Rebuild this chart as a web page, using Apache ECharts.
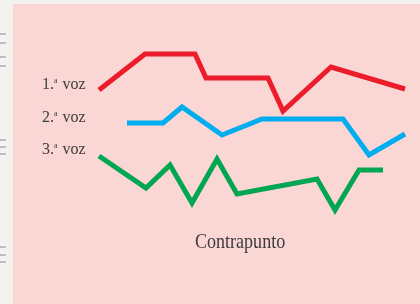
<!DOCTYPE html>
<html lang="es">
<head>
<meta charset="utf-8">
<script src="https://cdn.jsdelivr.net/npm/echarts@6/dist/echarts.min.js"></script>
<style>
  html, body { margin: 0; padding: 0; background: #f4f2ef; }
  #main { width: 420px; height: 304px; }
</style>
</head>
<body>
<div id="main"></div>
<script>
// voces del contrapunto: [tiempo, altura]
var voz1 = [[86, 214], [132, 250], [182, 250], [193, 226], [255, 226], [270, 193], [318, 237], [392, 215]];
var voz2 = [[114, 181], [150, 181], [169, 197], [209, 169], [249, 185], [330, 185], [356, 149], [392, 170]];
var voz3 = [[86, 148], [133, 116], [157, 139], [179, 101], [204, 145], [224, 110], [304, 125], [322, 94], [346, 134], [370, 134]];
var nombres = ['1.', '2.', '3.'];
var colores = ['#ec1c2b', '#00aeef', '#00a651'];
var titulo = 'Contrapunto';

var chart = echarts.init(document.getElementById('main'));

function serie(datos, i) {
    return {
        type: 'line',
        data: datos,
        symbol: 'none',
        lineStyle: { color: colores[i], width: 5, join: 'miter' },
        silent: true
    };
}

// etiquetas de las voces
var etiquetas = nombres.map(function (n, i) {
    return {
        type: 'text',
        left: 42,
        top: 77 + i * 32.5,
        style: {
            text: '{n|' + n + '}{s|a}{n| voz}',
            rich: {
                n: { fontFamily: 'Liberation Serif', fontSize: 16, fill: '#3c3c3c' },
                s: { fontFamily: 'Liberation Serif', fontSize: 8, fill: '#3c3c3c', verticalAlign: 'top', padding: [0, 1, 8, 0] }
            }
        }
    };
});

// rayitas del margen izquierdo
var rayas = [34, 43, 57, 66, 140, 147, 154, 247, 255, 262].map(function (y) {
    return { type: 'line', shape: { x1: 0, y1: y, x2: 6, y2: y }, style: { stroke: '#8a8a8a', lineWidth: 1 } };
});

chart.setOption({
    animation: false,
    backgroundColor: '#f4f2ef',
    grid: { left: 13, right: 0, top: 4, bottom: 0, show: true, backgroundColor: '#fad6d4', borderWidth: 0 },
    xAxis: { type: 'value', min: 0, max: 407, show: false },
    yAxis: { type: 'value', min: 0, max: 300, show: false },
    series: [serie(voz1, 0), serie(voz2, 1), serie(voz3, 2)],
    graphic: etiquetas.concat(rayas).concat([{
        type: 'text',
        left: 195,
        top: 231,
        scaleX: 0.82,
        style: { text: titulo, fontFamily: 'Liberation Serif', fontSize: 22, fill: '#3c3c3c' }
    }])
});
</script>
</body>
</html>
